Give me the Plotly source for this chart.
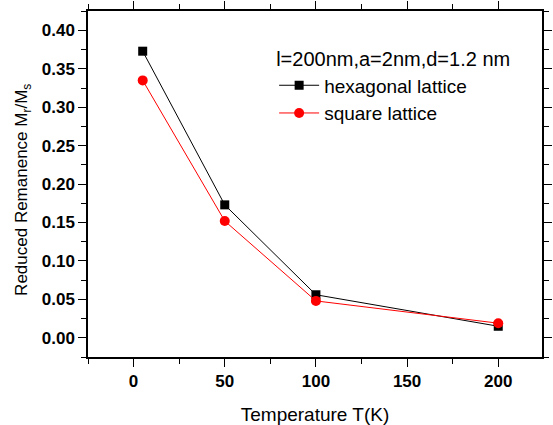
import plotly.graph_objects as go

temperature = [5, 50, 100, 200]
hexagonal = [0.373, 0.173, 0.056, 0.015]
square = [0.335, 0.152, 0.048, 0.019]

x_ticks = [0, 50, 100, 150, 200]
y_ticks = [0.00, 0.05, 0.10, 0.15, 0.20, 0.25, 0.30, 0.35, 0.40]

fig = go.Figure()
fig.add_trace(go.Scatter(
    x=temperature, y=hexagonal, mode="lines+markers", name="hexagonal lattice",
    line=dict(color="black", width=1),
    marker=dict(symbol="square", size=9, color="black"),
))
fig.add_trace(go.Scatter(
    x=temperature, y=square, mode="lines+markers", name="square lattice",
    line=dict(color="red", width=1),
    marker=dict(symbol="circle", size=10, color="red"),
))

font = "Liberation Sans, Arial, sans-serif"
fig.update_layout(
    width=553, height=425,
    margin=dict(l=88, r=1, t=6, b=68),
    paper_bgcolor="white", plot_bgcolor="white",
    font=dict(family=font, color="black"),
    showlegend=True,
    legend=dict(
        x=0.41, y=0.915, xanchor="left", yanchor="top",
        bgcolor="rgba(0,0,0,0)",
        font=dict(size=19, family=font),
        title=dict(text="l=200nm,a=2nm,d=1.2 nm", font=dict(size=20, family=font)),
        tracegroupgap=0, itemwidth=40,
    ),
    xaxis=dict(
        range=[-25, 224], tickvals=x_ticks, ticktext=[str(v) for v in x_ticks],
        showgrid=False, zeroline=False,
        showline=True, linecolor="black", linewidth=1.5, mirror="ticks",
        ticks="outside", ticklen=8, tickwidth=1.2, tickcolor="black",
        tickfont=dict(size=17, family=font, weight="bold"),
        minor=dict(ticks="outside", ticklen=5, dtick=25, tick0=-25, tickcolor="black", tickwidth=1.2),
        title=dict(text="Temperature T(K)", font=dict(size=19, family=font), standoff=18),
    ),
    yaxis=dict(
        range=[-0.025, 0.4253], tickvals=y_ticks, ticktext=[f"{v:.2f}" for v in y_ticks],
        showgrid=False, zeroline=False,
        showline=True, linecolor="black", linewidth=1.5, mirror="ticks",
        ticks="outside", ticklen=8, tickwidth=1.2, tickcolor="black",
        tickfont=dict(size=17, family=font, weight="bold"),
        minor=dict(ticks="outside", ticklen=5, dtick=0.025, tick0=0, tickcolor="black", tickwidth=1.2),
    ),
    annotations=[dict(
        text="Reduced Remanence M<sub>r</sub>/M<sub>s</sub>",
        xref="paper", yref="paper", x=0, y=0.483, xshift=-65,
        xanchor="center", yanchor="middle", textangle=-90, showarrow=False,
        font=dict(size=17, family=font),
    )],
)

fig.write_html("out.html")
